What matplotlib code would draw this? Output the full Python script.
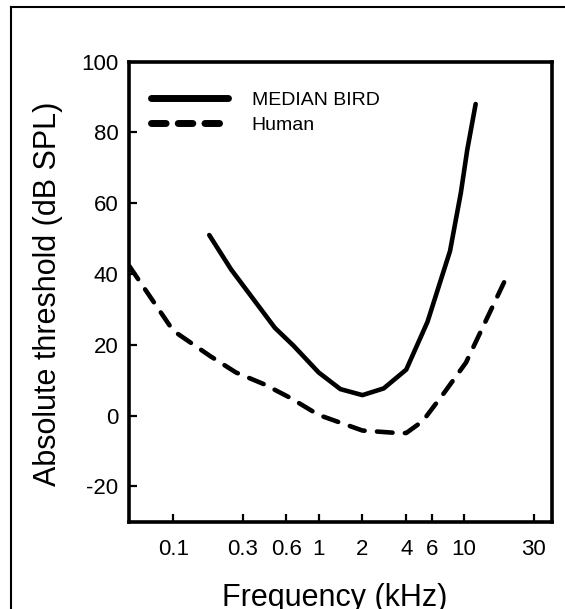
import matplotlib
matplotlib.use("Agg")
import matplotlib.pyplot as plt
from matplotlib.lines import Line2D

plt.rcParams['font.family'] = ['Liberation Sans', 'DejaVu Sans']
plt.rcParams['axes.unicode_minus'] = False

# audiogram data
bird_khz = [0.177, 0.25, 0.5, 0.67, 1.0, 1.41, 2.0, 2.8, 4.0, 5.6, 8.0, 9.5, 10.5, 12.0]
bird_db = [51.0, 41.3, 24.8, 19.8, 12.2, 7.5, 5.8, 7.7, 13.0, 26.5, 46.5, 63.0, 75.0, 88.0]

human_khz = [0.05, 0.1, 0.18, 0.27, 0.42, 0.64, 1.0, 2.0, 3.5, 4.0, 5.2, 7.3, 10.3, 19.5]
human_db = [42.2, 24.0, 16.8, 12.2, 8.9, 5.0, 0.2, -4.2, -4.9, -4.9, -1.5, 6.5, 15.0, 39.0]

x_ticks = [0.1, 0.3, 0.6, 1, 2, 4, 6, 10, 30]
x_tick_labels = ['0.1', '0.3', '0.6', '1', '2', '4', '6', '10', '30']
y_ticks = [-20, 0, 20, 40, 60, 80, 100]

series_labels = ['MEDIAN BIRD', 'Human']


def main():
    fig = plt.figure(figsize=(5.65, 6.09), dpi=100)
    ax = fig.add_axes([0.229, 0.143, 0.7475, 0.756])

    ax.plot(bird_khz, bird_db, color='black', lw=3.3, solid_capstyle='round',
            solid_joinstyle='round')
    ax.plot(human_khz, human_db, color='black', lw=3.3, linestyle=(0, (3.4, 2.7)),
            dash_capstyle='round')

    ax.set_xscale('log')
    ax.set_xlim(0.05, 40)
    ax.set_ylim(-30, 100)
    ax.set_xticks(x_ticks)
    ax.set_xticklabels(x_tick_labels)
    ax.minorticks_off()
    ax.set_yticks(y_ticks)

    for s in ax.spines.values():
        s.set_linewidth(2.6)
    ax.tick_params(direction='in', length=6, width=1.6, labelsize=16)
    ax.tick_params(axis='x', pad=12)
    ax.tick_params(axis='y', pad=8)

    ax.set_xlabel('Frequency (kHz)', fontsize=22, va='baseline')
    ax.xaxis.set_label_coords(0.486, -0.182)
    ax.set_ylabel('Absolute threshold (dB SPL)', fontsize=22)
    ax.yaxis.set_label_coords(-0.158, 0.495)

    handles = [Line2D([], [], color='black', lw=5, solid_capstyle='round'),
               Line2D([], [], color='black', lw=5, linestyle=(0, (2.1, 1.75)),
                      dash_capstyle='round')]
    ax.legend(handles, series_labels, loc='upper left',
              bbox_to_anchor=(0.05, 0.935), frameon=False, fontsize=14,
              handlelength=4.0, handletextpad=1.2, labelspacing=0.36,
              borderpad=0, borderaxespad=0)

    # outer frame (only left and top edges are inside the image)
    fig.add_artist(Line2D([0.0195, 0.0195], [-0.1, 0.9885], color='black',
                          lw=1.5, transform=fig.transFigure))
    fig.add_artist(Line2D([0.0195, 1.1], [0.9885, 0.9885], color='black',
                          lw=1.5, transform=fig.transFigure))

    fig.savefig('out.png', dpi=100)


if __name__ == '__main__':
    main()
